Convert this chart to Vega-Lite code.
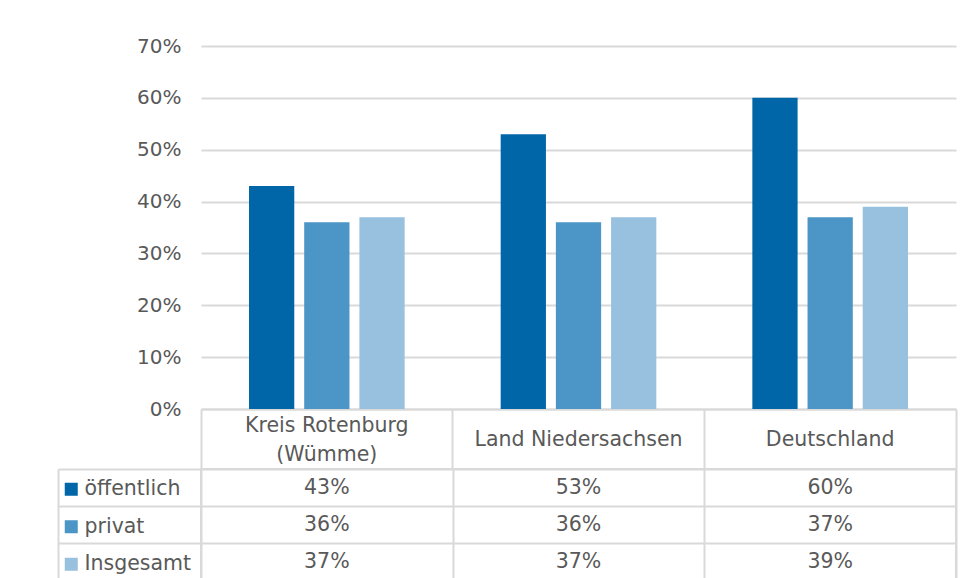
{
  "$schema": "https://vega.github.io/schema/vega-lite/v6.json",
  "background": "white",
  "padding": {"left": 56, "top": 36, "right": 13, "bottom": 0},
  "autosize": {"type": "pad"},
  "config": {
    "font": "DejaVu Sans",
    "axis": {"labelFont": "DejaVu Sans", "labelColor": "#595959", "titleColor": "#595959"},
    "legend": {"labelFont": "DejaVu Sans"}
  },
  "data": {
    "values": [
      {"region": "Kreis Rotenburg (Wümme)", "series": "öffentlich", "value": 0.43},
      {"region": "Kreis Rotenburg (Wümme)", "series": "privat", "value": 0.36},
      {"region": "Kreis Rotenburg (Wümme)", "series": "Insgesamt", "value": 0.37},
      {"region": "Land Niedersachsen", "series": "öffentlich", "value": 0.53},
      {"region": "Land Niedersachsen", "series": "privat", "value": 0.36},
      {"region": "Land Niedersachsen", "series": "Insgesamt", "value": 0.37},
      {"region": "Deutschland", "series": "öffentlich", "value": 0.60},
      {"region": "Deutschland", "series": "privat", "value": 0.37},
      {"region": "Deutschland", "series": "Insgesamt", "value": 0.39}
    ]
  },
  "bounds": "flush",
  "spacing": 60,
  "vconcat": [
    {
      "width": 755,
      "height": 363,
      "view": {"stroke": null},
      "mark": {"type": "bar"},
      "encoding": {
        "x": {
          "field": "region", "type": "nominal",
          "sort": ["Kreis Rotenburg (Wümme)", "Land Niedersachsen", "Deutschland"],
          "scale": {"paddingInner": 0, "paddingOuter": 0},
          "axis": {
            "title": null,
            "orient": "bottom",
            "domain": true, "domainColor": "#d9d9d9", "domainWidth": 2,
            "ticks": true, "tickColor": "#d9d9d9", "tickWidth": 2, "tickSize": 60,
            "bandPosition": 1, "tickExtra": true,
            "grid": false,
            "labelAngle": 0,
            "labelFontSize": 20.5,
            "labelLimit": 0,
            "labelPadding": {"condition": {"test": "datum.value == 'Kreis Rotenburg (Wümme)'", "value": -43.5}, "value": -30},
            "labelBaseline": "middle",
            "labelAlign": "center",
            "labelLineHeight": 29,
            "labelExpr": "datum.value == 'Kreis Rotenburg (Wümme)' ? ['Kreis Rotenburg', '(Wümme)'] : datum.value"
          }
        },
        "xOffset": {
          "field": "series", "type": "nominal",
          "sort": ["öffentlich", "privat", "Insgesamt"],
          "scale": {"paddingInner": 0.18, "paddingOuter": 0.87}
        },
        "y": {
          "field": "value", "type": "quantitative",
          "scale": {"domain": [0, 0.7]},
          "axis": {
            "title": null,
            "values": [0, 0.1, 0.2, 0.3, 0.4, 0.5, 0.6, 0.7],
            "format": ".0%",
            "domain": false, "ticks": false,
            "grid": true, "gridColor": "#d9d9d9", "gridWidth": 2,
            "labelFontSize": 20, "labelPadding": 20
          }
        },
        "color": {
          "field": "series", "type": "nominal",
          "scale": {"domain": ["öffentlich", "privat", "Insgesamt"], "range": ["#0066a8", "#4b96c6", "#97c1df"]},
          "legend": {
            "title": null,
            "orient": "none",
            "legendX": -140,
            "legendY": 433,
            "direction": "vertical",
            "symbolType": "square",
            "symbolSize": 169,
            "symbolStrokeWidth": 0,
            "symbolOpacity": 1,
            "labelFontSize": 20.5,
            "labelColor": "#595959",
            "labelOffset": 3,
            "labelLimit": 0,
            "rowPadding": 16.5,
            "padding": 0
          }
        }
      }
    },
    {
      "width": 755,
      "height": 111,
      "view": {"stroke": "#d9d9d9", "strokeWidth": 2},
      "mark": {"type": "text", "fontSize": 20.5, "color": "#595959", "font": "DejaVu Sans"},
      "encoding": {
        "x": {
          "field": "region", "type": "nominal",
          "sort": ["Kreis Rotenburg (Wümme)", "Land Niedersachsen", "Deutschland"],
          "scale": {"paddingInner": 0, "paddingOuter": 0},
          "axis": {
            "title": null, "labels": false, "ticks": false, "domain": false,
            "grid": true, "gridColor": "#d9d9d9", "gridWidth": 2, "tickBand": "extent"
          }
        },
        "y": {
          "field": "series", "type": "nominal",
          "sort": ["öffentlich", "privat", "Insgesamt"],
          "scale": {"paddingInner": 0, "paddingOuter": 0},
          "axis": {
            "title": null, "labels": false,
            "orient": "left", "offset": 143,
            "domain": true, "domainColor": "#d9d9d9", "domainWidth": 2,
            "ticks": true, "tickSize": -143, "tickColor": "#d9d9d9", "tickWidth": 2,
            "tickBand": "extent",
            "grid": true, "gridColor": "#d9d9d9", "gridWidth": 2
          }
        },
        "text": {"field": "value", "type": "quantitative", "format": ".0%"}
      }
    }
  ]
}
